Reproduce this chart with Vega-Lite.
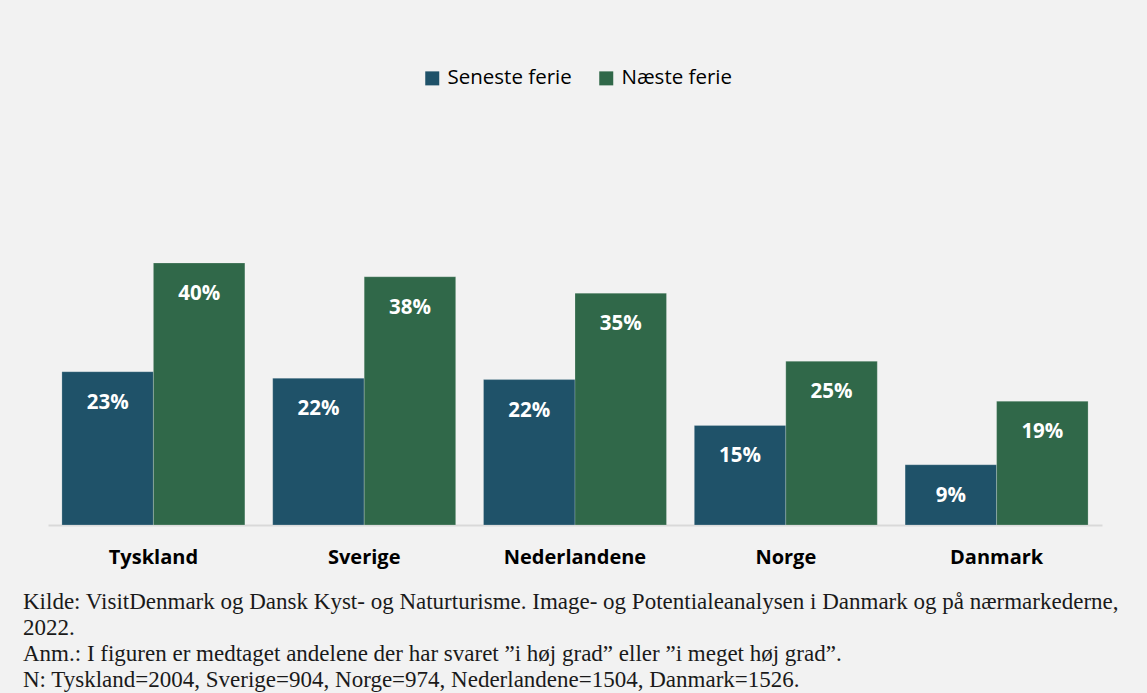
{
  "$schema": "https://vega.github.io/schema/vega-lite/v6.json",
  "autosize": {"type": "none"},
  "width": 1054,
  "height": 393,
  "padding": {"left": 48, "top": 132, "right": 45, "bottom": 220},
  "background": "#f2f2f2",
  "title": {
    "text": [
      "Kilde: VisitDenmark og Dansk Kyst- og Naturturisme. Image- og Potentialeanalysen i Danmark og på nærmarkederne,",
      "2022.",
      "Anm.: I figuren er medtaget andelene der har svaret ”i høj grad” eller ”i meget høj grad”.",
      "N: Tyskland=2004, Sverige=904, Norge=974, Nederlandene=1504, Danmark=1526."
    ],
    "orient": "bottom",
    "anchor": "start",
    "frame": "group",
    "dx": -25,
    "offset": 24,
    "font": "Liberation Serif",
    "fontSize": 23,
    "fontWeight": "normal",
    "lineHeight": 26,
    "color": "#1a1a1a"
  },
  "data": {
    "values": [
      {"land": "Tyskland", "serie": "Seneste ferie", "andel": 0.234},
      {"land": "Tyskland", "serie": "Næste ferie", "andel": 0.40},
      {"land": "Sverige", "serie": "Seneste ferie", "andel": 0.224},
      {"land": "Sverige", "serie": "Næste ferie", "andel": 0.379},
      {"land": "Nederlandene", "serie": "Seneste ferie", "andel": 0.222},
      {"land": "Nederlandene", "serie": "Næste ferie", "andel": 0.354},
      {"land": "Norge", "serie": "Seneste ferie", "andel": 0.152},
      {"land": "Norge", "serie": "Næste ferie", "andel": 0.25},
      {"land": "Danmark", "serie": "Seneste ferie", "andel": 0.092},
      {"land": "Danmark", "serie": "Næste ferie", "andel": 0.189}
    ]
  },
  "encoding": {
    "x": {
      "field": "land",
      "type": "nominal",
      "sort": ["Tyskland", "Sverige", "Nederlandene", "Norge", "Danmark"],
      "scale": {"paddingInner": 0.132, "paddingOuter": 0.066},
      "axis": {
        "title": null,
        "labelAngle": 0,
        "ticks": false,
        "tickSize": 0,
        "labelPadding": 22,
        "labelFont": "Open Sans",
        "labelFontSize": 20,
        "labelFontWeight": "bold",
        "labelColor": "#000000",
        "domainColor": "#d9d9d9",
        "domainWidth": 2,
        "grid": false
      }
    },
    "xOffset": {
      "field": "serie",
      "type": "nominal",
      "sort": ["Seneste ferie", "Næste ferie"]
    },
    "y": {
      "field": "andel",
      "type": "quantitative",
      "scale": {"domain": [0, 0.6], "nice": false, "zero": true},
      "axis": null
    }
  },
  "layer": [
    {
      "mark": {"type": "bar", "stroke": "#ffffff", "strokeWidth": 0.6, "strokeOpacity": 0.35},
      "encoding": {
        "color": {
          "field": "serie",
          "type": "nominal",
          "sort": ["Seneste ferie", "Næste ferie"],
          "scale": {"domain": ["Seneste ferie", "Næste ferie"], "range": ["#1f5269", "#306849"]},
          "legend": {
            "title": null,
            "orient": "none",
            "direction": "horizontal",
            "legendX": 374,
            "legendY": -64,
            "symbolType": "square",
            "symbolSize": 196,
            "symbolStrokeWidth": 0,
            "labelFont": "Open Sans",
            "labelFontSize": 20.5,
            "labelColor": "#000000",
            "labelOffset": 5,
            "columnPadding": 24,
            "padding": 0
          }
        }
      }
    },
    {
      "mark": {
        "type": "text",
        "baseline": "middle",
        "align": "center",
        "dy": 31,
        "font": "Open Sans",
        "fontSize": 20.5,
        "fontWeight": "bold",
        "color": "#ffffff"
      },
      "encoding": {
        "text": {"field": "andel", "type": "quantitative", "format": ".0%"}
      }
    }
  ],
  "config": {
    "view": {"stroke": null}
  }
}
